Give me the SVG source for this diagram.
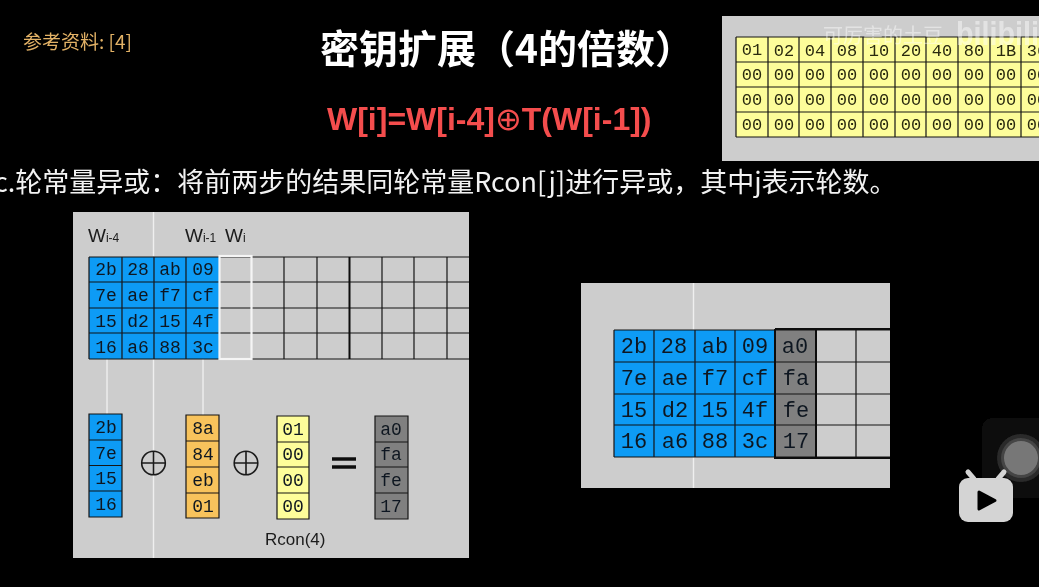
<svg xmlns="http://www.w3.org/2000/svg" width="1039" height="587" viewBox="0 0 1039 587">
<style>
.cjk{font-family:"Noto Sans CJK SC","Liberation Sans",sans-serif}
.sans{font-family:"Liberation Sans",sans-serif}
.m{font-family:"Liberation Mono",monospace;text-anchor:middle;fill:#101820}
.s{font-size:18px}.l{font-size:22px}.t{font-size:17px;fill:#2a2a10}
.panel{fill:#cdcdcd}
.grid{fill:none;stroke:#141414;stroke-width:1.2}
.thick{fill:none;stroke:#0a0a0a;stroke-width:2}
.wl{stroke:#efefef;stroke-width:1.4;fill:none}
.blue{fill:#0f9bf5}.org{fill:#f8c35c}.yel{fill:#fdfd9a}.gry{fill:#808080}
.lab{font-family:"Liberation Sans",sans-serif;fill:#1a1a1a}
</style>
<defs><filter id="soft" x="0" y="0" width="100%" height="100%"><feGaussianBlur stdDeviation="0.4"/></filter></defs>
<rect width="1039" height="587" fill="#000"/>
<g filter="url(#soft)">
<g id="reference"><text class="cjk" x="23" y="49" font-size="19" fill="#e3b266">参考资料: [4]</text></g>
<g id="title"><text class="cjk" x="320" y="63" font-size="39" font-weight="700" fill="#fff">密钥扩展（4的倍数）</text></g>
<g id="formula"><text class="sans" x="327" y="130" font-size="32" font-weight="700" fill="#f44d4d">W[i]=W[i-4]<tspan font-family="DejaVu Sans" font-weight="400">⊕</tspan>T(W[i-1])</text></g>
<g id="subtitle"><text class="cjk" x="-6" y="192" font-size="27" fill="#f2f2f2">c.轮常量异或：将前两步的结果同轮常量Rcon[j]进行异或，其中j表示轮数。</text></g>

<g id="rcon-table">
<rect class="panel" x="722" y="16" width="317" height="145"/>
<rect class="yel" x="736" y="37" width="303" height="100"/>
<path class="grid" d="M736 37H1039M736 62H1039M736 87H1039M736 112H1039M736 137H1039M736 37V137M768 37V137M799 37V137M831 37V137M863 37V137M895 37V137M926 37V137M958 37V137M990 37V137M1021 37V137"/>
<g class="m t">
<text x="752" y="55">01</text><text x="784" y="56">02</text><text x="815" y="56">04</text><text x="847" y="56">08</text><text x="879" y="56">10</text><text x="911" y="56">20</text><text x="942" y="56">40</text><text x="974" y="56">80</text><text x="1006" y="56">1B</text><text x="1037" y="56">36</text>
<text x="752" y="80">00</text><text x="784" y="80">00</text><text x="815" y="80">00</text><text x="847" y="80">00</text><text x="879" y="80">00</text><text x="911" y="80">00</text><text x="942" y="80">00</text><text x="974" y="80">00</text><text x="1006" y="80">00</text><text x="1037" y="80">00</text>
<text x="752" y="105">00</text><text x="784" y="105">00</text><text x="815" y="105">00</text><text x="847" y="105">00</text><text x="879" y="105">00</text><text x="911" y="105">00</text><text x="942" y="105">00</text><text x="974" y="105">00</text><text x="1006" y="105">00</text><text x="1037" y="105">00</text>
<text x="752" y="130">00</text><text x="784" y="130">00</text><text x="815" y="130">00</text><text x="847" y="130">00</text><text x="879" y="130">00</text><text x="911" y="130">00</text><text x="942" y="130">00</text><text x="974" y="130">00</text><text x="1006" y="130">00</text><text x="1037" y="130">00</text>
</g>
</g>

<g id="left-panel"><rect class="panel" x="73" y="212" width="396" height="346"/>
<g class="connectors"><path class="wl" d="M153.500 212V256M153.500 359V558M107 359V414M203 359V415"/></g>
</g>
<g id="left-labels" class="lab">
<text x="88" y="242" font-size="19">W<tspan font-size="12">i-4</tspan></text>
<text x="185" y="242" font-size="19">W<tspan font-size="12">i-1</tspan></text>
<text x="225" y="242" font-size="19">W<tspan font-size="12">i</tspan></text>
</g>
<g id="left-grid">
<rect class="blue" x="89" y="257" width="130" height="102"/>
<path class="grid" d="M89 257H469M89 282H469M89 308H469M89 333H469M89 359H469M89 257V359M122 257V359M154 257V359M186 257V359M284 257V359M317 257V359M382 257V359M414 257V359M447 257V359"/>
<path class="thick" d="M349.500 257V359"/>
<rect x="219.500" y="256" width="32" height="103" fill="none" stroke="#f5f5f5" stroke-width="2.200"/>
<g class="m s">
<text x="106" y="275">2b</text><text x="138" y="275">28</text><text x="170" y="275">ab</text><text x="203" y="275">09</text>
<text x="106" y="301">7e</text><text x="138" y="301">ae</text><text x="170" y="301">f7</text><text x="203" y="301">cf</text>
<text x="106" y="327">15</text><text x="138" y="327">d2</text><text x="170" y="327">15</text><text x="203" y="327">4f</text>
<text x="106" y="353">16</text><text x="138" y="353">a6</text><text x="170" y="353">88</text><text x="203" y="353">3c</text>
</g>
</g>

<g id="col-w4">
<rect class="blue" x="89" y="414" width="33" height="103"/>
<path class="grid" d="M89 414H122V517H89ZM89 440H122M89 465.500H122M89 491H122"/>
<g class="m s"><text x="106" y="433">2b</text><text x="106" y="459">7e</text><text x="106" y="484">15</text><text x="106" y="510">16</text></g>
</g>
<g id="xor-1"><circle cx="153.500" cy="463" r="11.800" fill="none" stroke="#1a1a1a" stroke-width="1.600"/><path d="M141.700 463H165.300M153.500 451.200V474.800" stroke="#1a1a1a" stroke-width="1.600"/></g>
<g id="col-w1">
<rect class="org" x="186" y="415" width="33" height="103"/>
<path class="grid" d="M186 415H219V518H186ZM186 441H219M186 467H219M186 493H219" stroke="#5a4a20"/>
<g class="m s"><text x="203" y="434">8a</text><text x="203" y="460">84</text><text x="203" y="486">eb</text><text x="203" y="512">01</text></g>
</g>
<g id="xor-2"><circle cx="246" cy="463" r="11.800" fill="none" stroke="#1a1a1a" stroke-width="1.600"/><path d="M234.200 463H257.800M246 451.200V474.800" stroke="#1a1a1a" stroke-width="1.600"/></g>
<g id="col-rcon">
<rect class="yel" x="277" y="416" width="32" height="103"/>
<path class="grid" d="M277 416H309V519H277ZM277 442H309M277 467H309M277 493H309"/>
<g class="m s"><text x="293" y="435">01</text><text x="293" y="460">00</text><text x="293" y="486">00</text><text x="293" y="512">00</text></g>
<text class="lab" x="265" y="545" font-size="17">Rcon(4)</text>
</g>
<g id="equals"><path d="M332 459H356M332 467H356" stroke="#111" stroke-width="3.500"/></g>
<g id="col-result">
<rect class="gry" x="375" y="416" width="33" height="103"/>
<path class="grid" d="M375 416H408V519H375ZM375 442H408M375 467H408M375 493H408"/>
<g class="m s"><text x="391" y="435">a0</text><text x="391" y="460">fa</text><text x="391" y="486">fe</text><text x="391" y="512">17</text></g>
</g>

<g id="right-panel"><rect class="panel" x="581" y="283" width="309" height="205"/><path class="wl" d="M693.500 283V488"/></g>
<g id="right-grid">
<rect class="blue" x="614" y="330" width="161" height="127"/>
<rect class="gry" x="775" y="330" width="41" height="127"/>
<path class="grid" d="M614 330H890M614 362H890M614 394H890M614 425H890M614 457H890M614 330V457M654 330V457M695 330V457M735 330V457M856 330V457"/>
<path class="thick" d="M775 329V458H890M775 329H890M816 329V458"/>
<g class="m l">
<text x="634" y="353">2b</text><text x="674" y="353">28</text><text x="715" y="353">ab</text><text x="755" y="353">09</text><text x="795" y="353">a0</text>
<text x="634" y="385">7e</text><text x="675" y="385">ae</text><text x="715" y="385">f7</text><text x="755" y="385">cf</text><text x="796" y="385">fa</text>
<text x="634" y="417">15</text><text x="675" y="417">d2</text><text x="715" y="417">15</text><text x="755" y="417">4f</text><text x="796" y="417">fe</text>
<text x="634" y="448">16</text><text x="675" y="448">a6</text><text x="715" y="448">88</text><text x="755" y="448">3c</text><text x="796" y="448">17</text>
</g>
</g>

<g id="watermark" fill="#fff" opacity="0.45">
<text class="cjk" x="823" y="43" font-size="20">可厉害的土豆</text>
<text class="sans" x="956" y="45" font-size="34" font-weight="700" textLength="83" lengthAdjust="spacingAndGlyphs">bilibili</text>
</g>
<g id="record-button">
<rect x="982" y="418" width="70" height="80" rx="10" fill="#0d0d0d"/>
<circle cx="1021" cy="458" r="24" fill="#2a2a2a"/>
<circle cx="1021" cy="458" r="20" fill="#444"/>
<circle cx="1021" cy="458" r="17" fill="#777"/>
</g>
<g id="player-icon">
<path d="M974 479L968 472M998 479L1004 472" stroke="#d4d4d4" stroke-width="5" stroke-linecap="round"/>
<rect x="959" y="478" width="54" height="44" rx="9" fill="#d4d4d4"/>
<path d="M979 492L995 500.500L979 509Z" fill="#000" stroke="#000" stroke-width="3" stroke-linejoin="round"/>
</g>
</g>
</svg>
